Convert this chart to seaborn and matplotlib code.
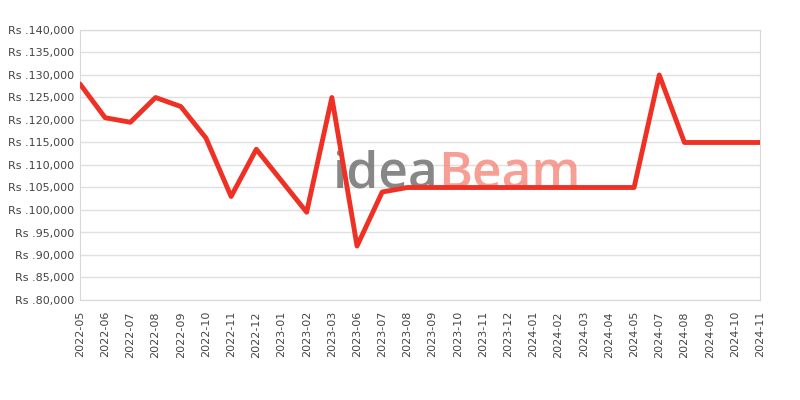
import matplotlib
matplotlib.use('Agg')
import matplotlib.pyplot as plt
import matplotlib.ticker as mticker
import pandas as pd
import seaborn as sns

months = [
    '2022-05', '2022-06', '2022-07', '2022-08', '2022-09', '2022-10', '2022-11',
    '2022-12', '2023-01', '2023-02', '2023-03', '2023-06', '2023-07', '2023-08',
    '2023-09', '2023-10', '2023-11', '2023-12', '2024-01', '2024-02', '2024-03',
    '2024-04', '2024-05', '2024-07', '2024-08', '2024-09', '2024-10', '2024-11',
]
prices = [
    128000, 120500, 119500, 125000, 123000, 116000, 103000,
    113500, 106500, 99500, 125000, 92000, 104000, 105000,
    105000, 105000, 105000, 105000, 105000, 105000, 105000,
    105000, 105000, 130000, 115000, 115000, 115000, 115000,
]

data = pd.DataFrame({'month': months, 'price': prices})
data['pos'] = range(len(data))

sns.set_style('white')
plt.rcParams['font.family'] = ['DejaVu Sans']

fig = plt.figure(figsize=(8, 4), dpi=100)
ax = fig.add_axes([0.1, 0.25, 0.85, 0.675])

# watermark
ax.text(0.527, 0.415, 'idea', transform=ax.transAxes, fontsize=37,
        family='Open Sans', fontweight='semibold', color='#7a7a7a',
        alpha=0.9, ha='right', va='baseline', zorder=1)
ax.text(0.527, 0.415, 'Beam', transform=ax.transAxes, fontsize=37,
        family='Open Sans', fontweight='semibold', color='#f5877a',
        alpha=0.8, ha='left', va='baseline', zorder=1)

sns.lineplot(data=data, x='pos', y='price', color='#ee3124', linewidth=3.5,
             ax=ax, zorder=3)

ax.set_xlim(0, len(months) - 1)
ax.set_ylim(80000, 140000)
ax.set_xticks(data['pos'])
ax.set_xticklabels(months, rotation=90)
ax.yaxis.set_major_locator(mticker.MultipleLocator(5000))
ax.yaxis.set_major_formatter(mticker.FuncFormatter(lambda v, p: 'Rs .{:,.0f}'.format(v)))
ax.tick_params(axis='both', labelsize=8, colors='#444444', length=0, pad=4)
ax.tick_params(axis='x', pad=8)
ax.grid(axis='y', color='#e0e0e0', linewidth=1)
for s in ax.spines.values():
    s.set_color('#d8d8d8')
ax.set_xlabel('')
ax.set_ylabel('')

fig.savefig('out.png', dpi=100)
